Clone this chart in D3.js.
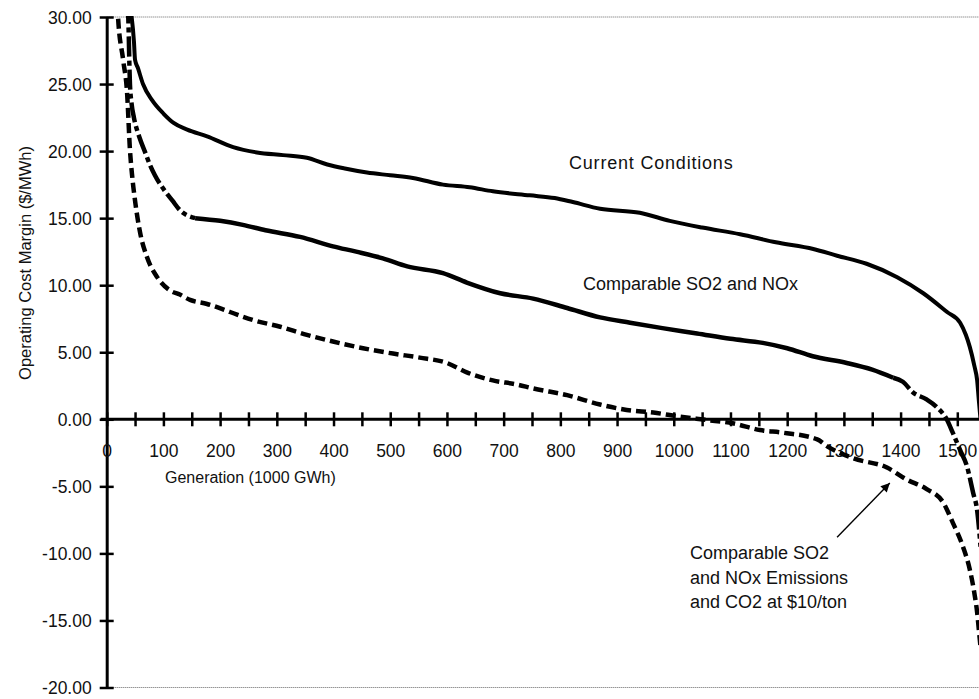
<!DOCTYPE html>
<html>
<head>
<meta charset="utf-8">
<script src="https://cdn.jsdelivr.net/npm/d3@7"></script>
<style>
  html, body { margin: 0; padding: 0; background: #fff; }
  svg { display: block; font-family: "Liberation Sans", Arial, Helvetica, sans-serif; }
</style>
</head>
<body>
<svg id="chart" width="979" height="699"></svg>
<script>
// Generation (1000 GWh) and operating cost margin ($/MWh) for each scenario
const currentGen    = [40, 44, 48, 50, 55, 64, 80, 100, 118, 142, 177, 223, 265, 311, 353, 389, 420, 459, 500, 540, 593, 640, 681, 746, 790, 822, 870, 940, 993, 1050, 1117, 1180, 1246, 1288, 1340, 1394, 1440, 1482, 1505, 1515, 1522, 1530, 1535, 1538, 1541];
const currentMargin = [31, 30, 28.2, 26.8, 26.2, 25, 23.8, 22.8, 22.1, 21.6, 21.1, 20.3, 19.9, 19.7, 19.5, 19.0, 18.7, 18.4, 18.2, 18.0, 17.5, 17.3, 17.0, 16.7, 16.5, 16.2, 15.7, 15.4, 14.8, 14.3, 13.8, 13.2, 12.7, 12.2, 11.6, 10.6, 9.4, 8.0, 7.2, 6.3, 5.4, 4.0, 2.9, 1.4, 0];

const so2NoxGen    = [37, 38, 41, 44, 48, 58, 67, 76, 85, 103, 116, 129, 156, 200, 240, 280, 341, 399, 440, 487, 530, 593, 635, 694, 752, 812, 870, 923, 980, 1041, 1100, 1157, 1200, 1245, 1305, 1350, 1387, 1404, 1422, 1445, 1464, 1482, 1492, 1505, 1517, 1528, 1535, 1538, 1541];
const so2NoxMargin = [31, 30, 25, 23.5, 22.5, 21, 20, 19, 18.2, 17, 16.3, 15.6, 15.0, 14.8, 14.5, 14.1, 13.6, 12.9, 12.5, 12.0, 11.4, 10.9, 10.2, 9.4, 9.0, 8.3, 7.6, 7.2, 6.8, 6.4, 6.0, 5.7, 5.3, 4.7, 4.2, 3.7, 3.1, 2.8, 2.0, 1.5, 0.9, -0.05, -1.0, -2.3, -3.5, -5.5, -6.8, -8.0, -9.5];

const co2Gen    = [19, 20, 29, 36, 41, 45, 50, 59, 71, 89, 112, 129, 147, 177, 205, 230, 258, 306, 353, 399, 452, 505, 552, 600, 635, 681, 723, 752, 812, 870, 917, 964, 1011, 1058, 1104, 1152, 1193, 1253, 1270, 1316, 1376, 1411, 1446, 1475, 1492, 1510, 1522, 1531, 1535, 1538, 1541];
const co2Margin = [31, 30, 26.8, 24.3, 20.1, 18.1, 16.3, 13.9, 12.1, 10.6, 9.6, 9.3, 8.9, 8.6, 8.2, 7.8, 7.4, 6.9, 6.3, 5.8, 5.3, 4.9, 4.6, 4.2, 3.5, 2.9, 2.6, 2.3, 1.8, 1.1, 0.7, 0.5, 0.2, -0.05, -0.3, -0.8, -1.0, -1.5, -2.0, -2.9, -3.6, -4.5, -5.2, -6.2, -7.7, -9.5, -11.2, -13.2, -14.4, -15.7, -17];

const xTicks = d3.range(0, 1501, 50);
const yTicks = d3.range(-20, 31, 5);

const svg = d3.select("#chart");
const W = 979, H = 699;

const x = d3.scaleLinear().domain([0, 1500]).range([106.7, 957.3]);
const y = d3.scaleLinear().domain([-20, 30]).range([687.5, 17]);

svg.append("rect").attr("width", W).attr("height", H).attr("fill", "#fff");

// dotted frame lines at the top and bottom of the value range
[30, -20].forEach(v => {
  svg.append("line")
    .attr("x1", x(0)).attr("x2", W)
    .attr("y1", y(v)).attr("y2", y(v))
    .attr("stroke", "#666").attr("stroke-width", 1)
    .attr("stroke-dasharray", "1,1");
});

// y axis
const yAxis = svg.append("g")
  .attr("transform", `translate(${x(0)},0)`)
  .call(d3.axisLeft(y).tickValues(yTicks).tickFormat(d => d.toFixed(2)).tickSizeOuter(0));
yAxis.select(".domain").attr("stroke", "#000").attr("stroke-width", 3);
yAxis.selectAll(".tick line").attr("x1", -7).attr("x2", 7).attr("stroke", "#000").attr("stroke-width", 2.5);
yAxis.selectAll(".tick text")
  .attr("x", -15).attr("dy", "0.36em")
  .attr("font-size", 17.5).attr("fill", "#111")
  .style("font-family", '"Liberation Sans", Arial, sans-serif');

// x axis on the zero line
const xAxis = svg.append("g")
  .attr("transform", `translate(0,${y(0)})`)
  .call(d3.axisBottom(x).tickValues(xTicks).tickFormat(d => d % 100 === 0 ? d : "").tickSizeOuter(0));
xAxis.select(".domain").remove();
xAxis.insert("line", ":first-child")
  .attr("x1", x(0) - 6).attr("x2", W).attr("y1", 0).attr("y2", 0)
  .attr("stroke", "#000").attr("stroke-width", 3);
xAxis.selectAll(".tick line").attr("y1", -7).attr("y2", 7).attr("stroke", "#000").attr("stroke-width", 2.5);
xAxis.selectAll(".tick text")
  .attr("y", 38).attr("dy", 0)
  .attr("font-size", 17.5).attr("fill", "#111")
  .style("font-family", '"Liberation Sans", Arial, sans-serif');

// curves
svg.append("clipPath").attr("id", "plot")
  .append("rect").attr("x", x(0)).attr("y", y(30) - 1).attr("width", W - x(0)).attr("height", y(-20) - y(30) + 2);

const line = d3.line()
  .x(d => x(d[0])).y(d => y(d[1]))
  .curve(d3.curveMonotoneX);

// each series is drawn in sections; the dash-dot curve reads as solid
// where its points are closely spaced and broken where it turns steep
const series = [
  { gen: currentGen, margin: currentMargin, width: 4,
    sections: [{ from: 0, to: 1600, dash: null }] },
  { gen: so2NoxGen,  margin: so2NoxMargin,  width: 4.5,
    sections: [{ from: 0, to: 156, dash: "20,4,5,4" },
               { from: 156, to: 1387, dash: null },
               { from: 1387, to: 1600, dash: "20,4,5,4" }] },
  { gen: co2Gen,     margin: co2Margin,     width: 4.5,
    sections: [{ from: 0, to: 1600, dash: "10,5" }] }
];

const curves = svg.append("g").attr("clip-path", "url(#plot)");
series.forEach(s => {
  const pts = d3.zip(s.gen, s.margin);
  s.sections.forEach(sec => {
    curves.append("path")
      .datum(pts.filter(p => p[0] >= sec.from && p[0] <= sec.to))
      .attr("d", line)
      .attr("fill", "none")
      .attr("stroke", "#000")
      .attr("stroke-width", s.width)
      .attr("stroke-linejoin", "round")
      .attr("stroke-dasharray", sec.dash);
  });
});

// axis titles
svg.append("text")
  .attr("transform", "translate(31,263) rotate(-90)")
  .attr("text-anchor", "middle")
  .attr("font-size", 16.5).attr("fill", "#111")
  .text("Operating Cost Margin ($/MWh)");

svg.append("text")
  .attr("x", 165).attr("y", 483)
  .attr("font-size", 16).attr("fill", "#111")
  .text("Generation (1000 GWh)");

// series labels
svg.append("text")
  .attr("x", 569).attr("y", 169)
  .attr("font-size", 18).attr("letter-spacing", 0.8).attr("fill", "#111")
  .text("Current Conditions");

svg.append("text")
  .attr("x", 583).attr("y", 290)
  .attr("font-size", 18).attr("fill", "#111")
  .text("Comparable SO2 and NOx");

const note = svg.append("text")
  .attr("x", 690).attr("y", 559)
  .attr("font-size", 18).attr("fill", "#111");
["Comparable SO2", "and NOx Emissions", "and CO2 at $10/ton"].forEach((t, i) => {
  note.append("tspan").attr("x", 690).attr("dy", i === 0 ? 0 : 24.5).text(t);
});

// arrow pointing at the CO2 curve
const defs = svg.append("defs");
defs.append("marker")
  .attr("id", "head")
  .attr("viewBox", "0 0 10 10")
  .attr("refX", 10).attr("refY", 5)
  .attr("markerWidth", 11).attr("markerHeight", 9)
  .attr("markerUnits", "userSpaceOnUse")
  .attr("orient", "auto")
  .append("path").attr("d", "M0,0 L10,5 L0,10 z").attr("fill", "#000");

const arrowFrom = [1288, -8.8];
const arrowTo   = [1381, -4.75];
svg.append("line")
  .attr("x1", x(arrowFrom[0])).attr("y1", y(arrowFrom[1]))
  .attr("x2", x(arrowTo[0])).attr("y2", y(arrowTo[1]))
  .attr("stroke", "#000").attr("stroke-width", 1.4)
  .attr("marker-end", "url(#head)");
</script>
</body>
</html>
